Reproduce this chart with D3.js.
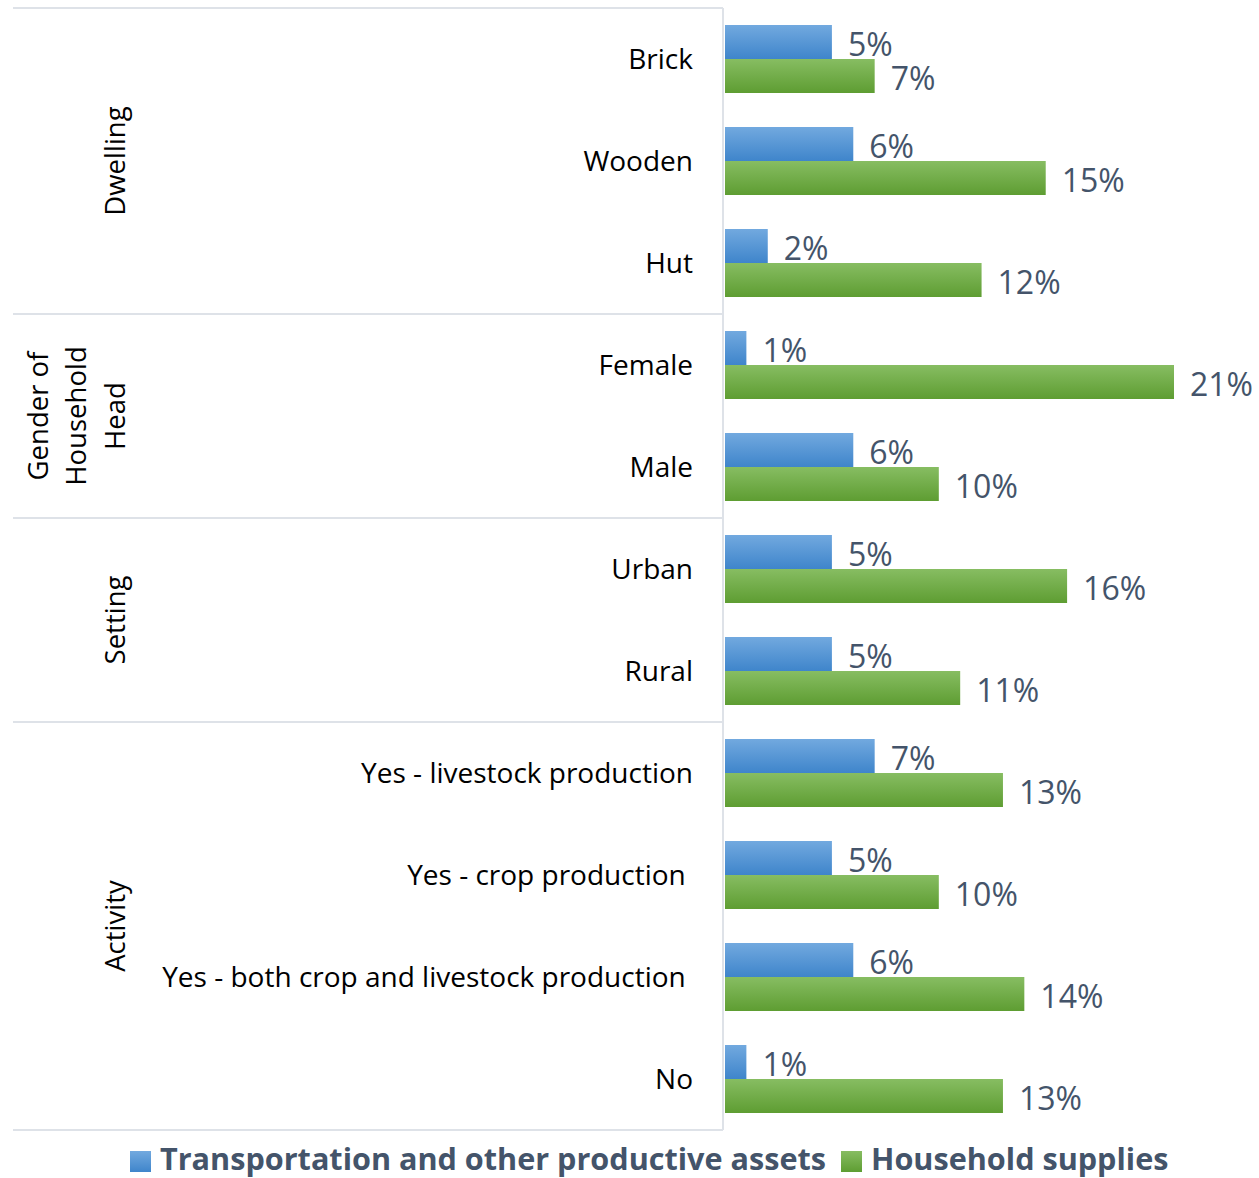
<!DOCTYPE html>
<html>
<head>
<meta charset="utf-8">
<script src="https://cdn.jsdelivr.net/npm/d3@7"></script>
<style>
  html, body { margin: 0; padding: 0; background: #fff; }
  svg { display: block; font-family: "Open Sans", "Liberation Sans", sans-serif; }
</style>
</head>
<body>
<svg id="chart" width="1259" height="1178"></svg>
<script>
// Category rows, top to bottom
const categories = [
  "Brick", "Wooden", "Hut",
  "Female", "Male",
  "Urban", "Rural",
  "Yes - livestock production", "Yes - crop production ",
  "Yes - both crop and livestock production ", "No"
];
// Grouping of the rows
const groups = [
  { name: ["Dwelling"], size: 3 },
  { name: ["Gender of", "Household", "Head"], size: 2 },
  { name: ["Setting"], size: 2 },
  { name: ["Activity"], size: 4 }
];
const seriesNames = ["Transportation and other productive assets", "Household supplies"];
// Percent values per series
const transportValues = [5, 6, 2, 1, 6, 5, 5, 7, 5, 6, 1];
const householdValues = [7, 15, 12, 21, 10, 16, 11, 13, 10, 14, 13];

const svg = d3.select("#chart");
const defs = svg.append("defs");

function gradient(id, top, bottom) {
  const g = defs.append("linearGradient").attr("id", id)
    .attr("x1", 0).attr("y1", 0).attr("x2", 0).attr("y2", 1);
  g.append("stop").attr("offset", "0%").attr("stop-color", top);
  g.append("stop").attr("offset", "100%").attr("stop-color", bottom);
}
gradient("gBlue", "#72A9DF", "#3F85CB");
gradient("gGreen", "#87BD62", "#5E9D32");
const fills = ["url(#gBlue)", "url(#gGreen)"];

const plotLeft = 725, plotTop = 8, plotBottom = 1130;
const frameLeft = 13, frameRight = 723;

const x = d3.scaleLinear().domain([0, 21]).range([plotLeft, 1174]);
const y = d3.scaleBand().domain(categories).range([plotTop, plotBottom])
  .paddingInner(1 / 3).paddingOuter(1 / 6);
const ySub = d3.scaleBand().domain([0, 1]).range([0, y.bandwidth()]);
const step = y.step();

const rows = categories.map((c, i) => ({ c, v: [transportValues[i], householdValues[i]] }));

// Category frame lines
const lineColor = "#DEE2E8";
svg.append("line").attr("x1", frameLeft).attr("x2", frameRight)
  .attr("y1", plotTop).attr("y2", plotTop).attr("stroke", lineColor).attr("stroke-width", 2);
svg.append("line").attr("x1", frameRight).attr("x2", frameRight)
  .attr("y1", plotTop).attr("y2", plotBottom).attr("stroke", lineColor).attr("stroke-width", 2);

let start = 0;
groups.forEach(g => {
  const y0 = plotTop + start * step;
  const y1 = plotTop + (start + g.size) * step;
  svg.append("line").attr("x1", frameLeft).attr("x2", frameRight)
    .attr("y1", y1).attr("y2", y1).attr("stroke", lineColor).attr("stroke-width", 2);
  const cy = (y0 + y1) / 2;
  const n = g.name.length;
  const lh = 38.5;
  g.name.forEach((t, k) => {
    const cx = 114 - (n - 1 - k) * lh;
    svg.append("text")
      .attr("transform", `translate(${cx},${cy}) rotate(-90)`)
      .attr("text-anchor", "middle").attr("dominant-baseline", "central")
      .attr("font-size", 27.5).attr("fill", "#000").text(t);
  });
  start += g.size;
});

// Category labels
svg.append("g").selectAll("text").data(categories).join("text")
  .attr("x", 693).attr("y", d => y(d) - (step - y.bandwidth()) / 2 + step / 2 - 1)
  .attr("text-anchor", "end").attr("dominant-baseline", "central")
  .style("white-space", "pre")
  .attr("font-size", 28).attr("fill", "#000").text(d => d);

// Bars
const rowG = svg.append("g").selectAll("g").data(rows).join("g")
  .attr("transform", d => `translate(0,${y(d.c)})`);
rowG.selectAll("rect").data(d => d.v).join("rect")
  .attr("x", x(0)).attr("y", (d, i) => ySub(i))
  .attr("width", d => x(d) - x(0)).attr("height", ySub.bandwidth())
  .attr("fill", (d, i) => fills[i]);
rowG.selectAll("text").data(d => d.v).join("text")
  .attr("x", d => x(d) + 16).attr("y", (d, i) => ySub(i) + ySub.bandwidth() / 2 + 1)
  .attr("dominant-baseline", "central")
  .attr("font-size", 32).attr("fill", "#44546A").text(d => d + "%");

// Legend
const legend = svg.append("g");
let lx = 130;
seriesNames.forEach((s, i) => {
  legend.append("rect").attr("x", lx).attr("y", 1151).attr("width", 21).attr("height", 21)
    .attr("fill", fills[i]);
  const t = legend.append("text").attr("x", lx + 30).attr("y", 1158)
    .attr("dominant-baseline", "central").attr("font-size", 30.6).attr("font-weight", "bold")
    .attr("fill", "#44546A").text(s);
  lx += 30 + t.node().getComputedTextLength() + 15;
});
</script>
</body>
</html>
